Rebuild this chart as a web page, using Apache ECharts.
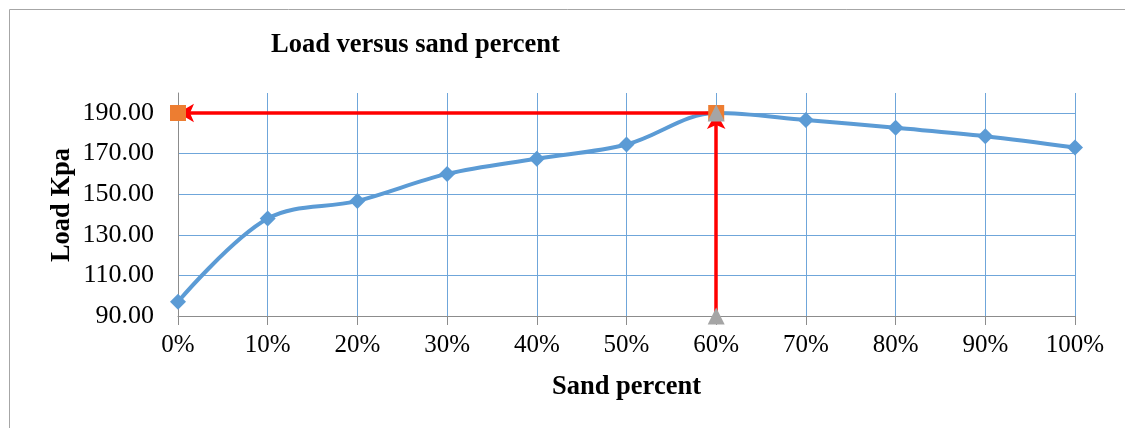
<!DOCTYPE html>
<html><head><meta charset="utf-8">
<script src="https://cdn.jsdelivr.net/npm/echarts@6/dist/echarts.min.js"></script>
<style>html,body{margin:0;padding:0;background:#fff}#c{width:1125px;height:428px}</style>
</head><body><div id="c"></div>
<script>
const sandPercent = [0, 10, 20, 30, 40, 50, 60, 70, 80, 90, 100];
const loadKpa = [97, 138, 146.7, 160, 167.5, 174.5, 190, 186.6, 182.7, 178.6, 173];
const orangePoints = [[0, 190], [60, 190]];
const grayPoints = [[60, 90], [60, 190]];
const hArrow = [[60, 190], [0, 190]];
const vArrow = [[60, 90], [60, 190]];
const yTicks = {min: 90, max: 190, interval: 20};
const xTicks = {min: 0, max: 100, interval: 10};

const FONT = '"Liberation Serif", "Times New Roman", serif';
const GRID_BLUE = '#6fa6da';
const AXIS_GRAY = '#8c8c8c';
const RED = '#ff0000';
const chart = echarts.init(document.getElementById('c'), null, {renderer: 'canvas'});
chart.setOption({
  animation: false,
  backgroundColor: '#fff',
  title: {text: 'Load versus sand percent', left: 266, top: 27,
    textStyle: {fontFamily: FONT, fontWeight: 'bold', fontSize: 26.5, color: '#000'}},
  graphic: [
    {type: 'line', shape: {x1: 9.5, y1: 9.5, x2: 1125, y2: 9.5}, style: {stroke: '#a6a6a6', lineWidth: 1}},
    {type: 'line', shape: {x1: 9.5, y1: 9.5, x2: 9.5, y2: 428}, style: {stroke: '#a6a6a6', lineWidth: 1}},
    {type: 'text', x: 62, y: 205, rotation: Math.PI / 2, z: 10,
      style: {text: 'Load Kpa', font: 'bold 26.5px ' + FONT, fill: '#000', textAlign: 'center', textVerticalAlign: 'middle'}}
  ],
  grid: [
    {left: 178, right: 50, top: 113, bottom: 112},
    {left: 178, right: 50, top: 93, bottom: 112}
  ],
  xAxis: [
    {type: 'value', gridIndex: 0, min: xTicks.min, max: xTicks.max, interval: xTicks.interval,
      axisLine: {show: true, lineStyle: {color: AXIS_GRAY, width: 1}},
      axisTick: {show: true, length: 9, lineStyle: {color: AXIS_GRAY}},
      splitLine: {show: false},
      axisLabel: {formatter: '{value}%', fontFamily: FONT, fontSize: 25, color: '#000', margin: 17},
      name: 'Sand percent', nameLocation: 'middle', nameGap: 58,
      nameTextStyle: {fontFamily: FONT, fontWeight: 'bold', fontSize: 26.5, color: '#000'}},
    {type: 'value', gridIndex: 1, min: xTicks.min, max: xTicks.max, interval: xTicks.interval,
      axisLine: {show: false}, axisTick: {show: false}, axisLabel: {show: false},
      splitLine: {show: true, lineStyle: {color: GRID_BLUE, width: 1}}}
  ],
  yAxis: [
    {type: 'value', gridIndex: 0, min: yTicks.min, max: yTicks.max, interval: yTicks.interval,
      axisLine: {show: false}, axisTick: {show: false},
      splitLine: {show: true, lineStyle: {color: GRID_BLUE, width: 1}},
      axisLabel: {formatter: v => v.toFixed(2), fontFamily: FONT, fontSize: 26, color: '#000', margin: 24}},
    {type: 'value', gridIndex: 1, min: 0, max: 1,
      axisLine: {show: true, lineStyle: {color: AXIS_GRAY, width: 1}},
      axisTick: {show: false}, axisLabel: {show: false}, splitLine: {show: false}}
  ],
  series: [
    {type: 'line', xAxisIndex: 0, yAxisIndex: 0, z: 3,
      data: sandPercent.map((x, i) => [x, loadKpa[i]]),
      smooth: 0.35, symbol: 'diamond', symbolSize: 16,
      lineStyle: {color: '#5b9bd5', width: 4},
      itemStyle: {color: '#5b9bd5'}},
    {type: 'line', xAxisIndex: 0, yAxisIndex: 0, z: 4, data: [], symbol: 'none',
      markLine: {silent: true, z: 4, symbol: ['none', 'arrow'], symbolSize: [14, 16], label: {show: false},
        lineStyle: {color: RED, width: 3.5, type: 'solid'},
        data: [[{coord: hArrow[0]}, {coord: hArrow[1]}], [{coord: vArrow[0]}, {coord: vArrow[1]}]]}},
    {type: 'scatter', xAxisIndex: 0, yAxisIndex: 0, z: 10, data: orangePoints, clip: false,
      symbol: 'rect', symbolSize: 16, itemStyle: {color: '#ed7d31', opacity: 1}},
    {type: 'scatter', xAxisIndex: 0, yAxisIndex: 0, z: 11, data: grayPoints, clip: false,
      symbol: 'triangle', symbolSize: 17, itemStyle: {color: '#a5a5a5', opacity: 1}}
  ]
});
</script></body></html>
